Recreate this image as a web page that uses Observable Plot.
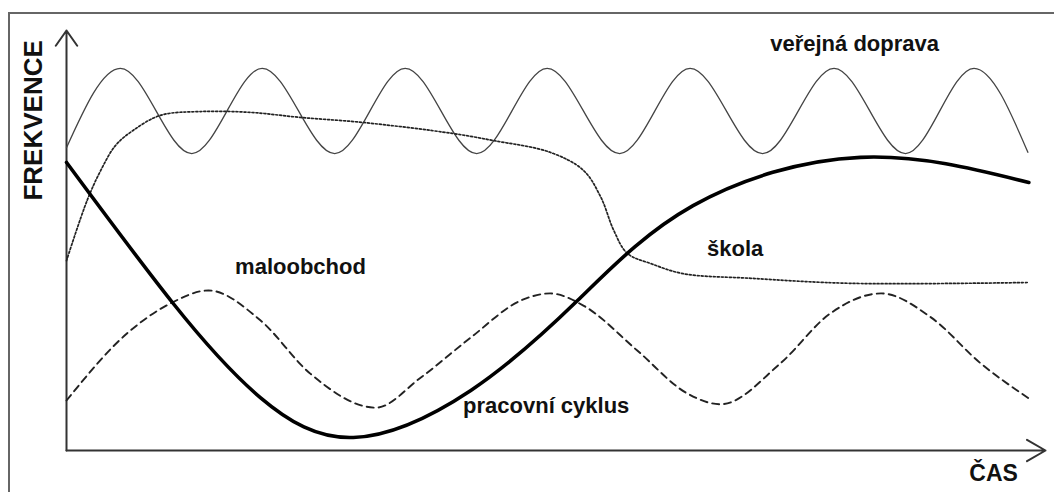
<!DOCTYPE html>
<html>
<head>
<meta charset="utf-8">
<script src="https://cdn.jsdelivr.net/npm/d3@7"></script>
<script src="https://cdn.jsdelivr.net/npm/@observablehq/plot@0.6"></script>
<style>
  html, body { margin: 0; padding: 0; background: #fff; }
  #wrap { position: relative; width: 1054px; height: 492px; overflow: hidden; }
  #frame { position: absolute; left: 8px; top: 12px; right: -10px; bottom: -10px;
           border-top: 2px solid #666; border-left: 2px solid #666; pointer-events: none; }
</style>
</head>
<body>
<div id="wrap"><div id="frame"></div></div>
<script>
// Time (x) and frequency (y) in arbitrary units
const dopravaT = [0, 5.5, 12.8, 20.0, 27.4, 34.6, 41.9, 49.1, 56.5, 63.7, 71.1, 78.4, 85.7, 92.7, 98.2];
const dopravaV = [72.1, 91.0, 70.7, 91.0, 70.7, 91.0, 70.7, 91.0, 70.7, 91.0, 70.7, 91.0, 70.7, 91.0, 71.0];

const skolaT = [0, 2.1, 3.5, 5.0, 6.8, 9.6, 13.7, 18.8, 23.9, 30.3, 39.4, 43.6, 49.4, 52.8, 54.6, 55.9, 57.3, 59.7, 63.0, 69.9, 80.1, 98.3];
const skolaV = [45.2, 59.5, 66.7, 72.6, 76.2, 79.8, 80.7, 80.5, 79.3, 78.1, 75.5, 73.8, 71.0, 66.7, 60.2, 52.4, 46.9, 44.5, 42.1, 41.0, 39.8, 40.0];

const pracT = [0, 10.9, 19.8, 29.3, 41.3, 52.2, 64.0, 81.1, 98.3];
const pracV = [68.6, 35.0, 12.6, 3.1, 14.3, 35.7, 58.3, 69.8, 63.8];

const maloT = [0, 6.2, 10.6, 14.5, 19.8, 24.9, 31.6, 36.2, 41.3, 46.4, 49.4, 52.8, 58.3, 63.4, 66.8, 72.9, 78.0, 83.2, 88.3, 93.4, 98.3];
const maloV = [11.9, 27.9, 35.0, 38.1, 31.0, 18.3, 10.2, 17.4, 26.9, 35.7, 37.4, 34.5, 23.8, 13.6, 11.0, 20.7, 32.6, 37.4, 31.7, 20.7, 12.4];

const seriesLabels = ["veřejná doprava", "škola", "maloobchod", "pracovní cyklus"];
const axisTitles = ["FREKVENCE", "ČAS"];
const xDomain = [0, 100];
const yDomain = [0, 100];

// annotation anchors (in data units)
const labelPos = [[80.5, 96.9], [68.3, 47.9], [23.9, 43.8], [49.0, 10.7]];
const axisTitlePos = [[-3.4, 78.6], [94.7, -5.6]];

const toRows = (T, V) => T.map((t, i) => ({t, v: V[i]}));
const doprava = toRows(dopravaT, dopravaV);
const skola = toRows(skolaT, skolaV);
const prac = toRows(pracT, pracV);
const malo = toRows(maloT, maloV);

const labels = seriesLabels.map((s, i) => ({s, x: labelPos[i][0], y: labelPos[i][1]}));
const font = "'Liberation Sans', Arial, sans-serif";

const chart = Plot.plot({
  width: 1054,
  height: 492,
  marginLeft: 66,
  marginRight: 9,
  marginTop: 30,
  marginBottom: 42,
  x: {domain: xDomain, axis: null},
  y: {domain: yDomain, axis: null},
  style: {background: "transparent", overflow: "visible", fontFamily: font},
  marks: [
    Plot.arrow([{x1: xDomain[0], y1: yDomain[0], x2: xDomain[0], y2: yDomain[1]}],
      {x1: "x1", y1: "y1", x2: "x2", y2: "y2", stroke: "#333", strokeWidth: 2, headLength: 14, headAngle: 70}),
    Plot.arrow([{x1: xDomain[0], y1: yDomain[0], x2: xDomain[1], y2: yDomain[0]}],
      {x1: "x1", y1: "y1", x2: "x2", y2: "y2", stroke: "#333", strokeWidth: 2, headLength: 16, headAngle: 60}),
    Plot.line(doprava, {x: "t", y: "v", curve: "monotone-x", stroke: "#444", strokeWidth: 1.3}),
    Plot.line(skola, {x: "t", y: "v", curve: "catmull-rom", stroke: "#222", strokeWidth: 1.7, strokeDasharray: "2,2"}),
    Plot.line(malo, {x: "t", y: "v", curve: "monotone-x", stroke: "#222", strokeWidth: 1.9, strokeDasharray: "7,5"}),
    Plot.line(prac, {x: "t", y: "v", curve: "natural", stroke: "#000", strokeWidth: 3.6}),
    Plot.text(labels, {x: "x", y: "y", text: "s", fontSize: 22, fontWeight: "bold", fill: "#111", textAnchor: "middle", lineAnchor: "middle"}),
    Plot.text([axisTitles[0]], {x: axisTitlePos[0][0], y: axisTitlePos[0][1], text: d => d, rotate: -90, fontSize: 26, fontWeight: "bold", fill: "#111", textAnchor: "middle", lineAnchor: "middle"}),
    Plot.text([axisTitles[1]], {x: axisTitlePos[1][0], y: axisTitlePos[1][1], text: d => d, fontSize: 23, fontWeight: "bold", fill: "#111", textAnchor: "middle", lineAnchor: "middle"})
  ]
});
document.getElementById("wrap").insertBefore(chart, document.getElementById("frame"));
</script>
</body>
</html>
